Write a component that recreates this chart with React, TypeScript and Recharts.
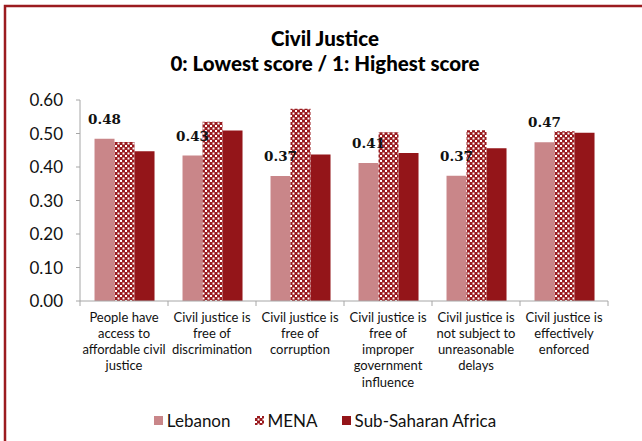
import React from 'react';
import { BarChart, Bar, XAxis, YAxis, Legend, LabelList } from 'recharts';

const titleLine1 = 'Civil Justice';
const titleLine2 = '0: Lowest score / 1: Highest score';

const categories = [
  'People have access to affordable civil justice',
  'Civil justice is free of discrimination',
  'Civil justice is free of corruption',
  'Civil justice is free of improper government influence',
  'Civil justice is not subject to unreasonable delays',
  'Civil justice is effectively enforced',
];

const categoryLines = [
  ['People have', 'access to', 'affordable civil', 'justice'],
  ['Civil justice is', 'free of', 'discrimination'],
  ['Civil justice is', 'free of', 'corruption'],
  ['Civil justice is', 'free of', 'improper', 'government', 'influence'],
  ['Civil justice is', 'not subject to', 'unreasonable', 'delays'],
  ['Civil justice is', 'effectively', 'enforced'],
];

const seriesNames = ['Lebanon', 'MENA', 'Sub-Saharan Africa'];
const lebanon = [0.484, 0.434, 0.373, 0.412, 0.374, 0.474];
const mena = [0.475, 0.535, 0.574, 0.504, 0.51, 0.507];
const ssa = [0.447, 0.509, 0.437, 0.442, 0.456, 0.502];

const yTicks = [0, 0.1, 0.2, 0.3, 0.4, 0.5, 0.6];

const data = categories.map((c, i) => ({
  name: c,
  lebanon: lebanon[i],
  mena: mena[i],
  ssa: ssa[i],
}));

const FONT = 'Lato, "Open Sans", sans-serif';
const AXIS_COLOR = '#a6a6a6';
const LEB_COLOR = '#c98689';
const MENA_COLOR = '#9a1a1e';
const SSA_COLOR = '#941519';
const FRAME_COLOR = '#9b1b1f';
const TICK_SIZE = 5;

const CategoryTick = (props: any) => {
  const { x, y, payload, index } = props;
  const half = payload && payload.offset ? payload.offset : 44;
  const axisY = y - TICK_SIZE;
  const lines = categoryLines[index] || [];
  const isLast = index === categories.length - 1;
  return (
    <g>
      <line x1={x - half} x2={x - half} y1={axisY} y2={axisY + TICK_SIZE} stroke={AXIS_COLOR} strokeWidth={1} />
      {isLast && (
        <line x1={x + half} x2={x + half} y1={axisY} y2={axisY + TICK_SIZE} stroke={AXIS_COLOR} strokeWidth={1} />
      )}
      <text x={x} y={axisY + 20.5} textAnchor="middle" fontFamily={FONT} fontSize={13} fill="#111">
        {lines.map((l, i) => (
          <tspan key={i} x={x} dy={i === 0 ? 0 : 16.3}>
            {l}
          </tspan>
        ))}
      </text>
    </g>
  );
};

const LegendContent = (props: any) => {
  const { payload } = props;
  return (
    <div style={{ display: 'flex', justifyContent: 'center', alignItems: 'center', fontFamily: FONT, fontSize: 17, color: '#111' }}>
      {(payload || []).map((p: any, i: number) => (
        <div key={i} style={{ display: 'flex', alignItems: 'center', marginRight: i < 2 ? 24 : 0 }}>
          <svg width={9} height={9} style={{ marginRight: 4 }}>
            <rect x={0} y={0} width={9} height={9} fill={p.dataKey === 'mena' ? 'url(#menaPattern)' : p.color} />
          </svg>
          <span>{p.value}</span>
        </div>
      ))}
    </div>
  );
};

export default function App() {
  return (
    <div style={{ position: 'fixed', left: 0, top: 0, width: 642, height: 441, overflow: 'hidden', background: '#fff' }}>
      <svg width={0} height={0} style={{ position: 'absolute' }}>
        <defs>
          <pattern id="menaPattern" patternUnits="userSpaceOnUse" width={5} height={5}>
            <rect x={0} y={0} width={5} height={5} fill={MENA_COLOR} />
            <rect x={0} y={0} width={2} height={2} fill="#fff" />
            <rect x={2.5} y={2.5} width={2} height={2} fill="#fff" />
          </pattern>
        </defs>
      </svg>
      <div
        style={{
          position: 'absolute',
          left: 0,
          top: 26,
          width: 650,
          textAlign: 'center',
          fontFamily: FONT,
          fontWeight: 900,
          fontSize: 20.5,
          lineHeight: '25px',
          color: '#000',
        }}
      >
        <div>{titleLine1}</div>
        <div>{titleLine2}</div>
      </div>
      <div style={{ position: 'absolute', left: 0, top: 0 }}>
        <BarChart
          width={642}
          height={441}
          data={data}
          margin={{ top: 100, right: 34, bottom: 0, left: 0 }}
          barCategoryGap="16.5%"
          barGap={0}
        >
          <XAxis
            dataKey="name"
            height={140}
            axisLine={{ stroke: AXIS_COLOR }}
            tickLine={false}
            tickSize={TICK_SIZE}
            tickMargin={0}
            interval={0}
            tick={<CategoryTick />}
          />
          <YAxis
            width={80}
            domain={[0, 0.6]}
            ticks={yTicks}
            tickFormatter={(v: number) => v.toFixed(2)}
            axisLine={{ stroke: AXIS_COLOR }}
            tickLine={{ stroke: AXIS_COLOR }}
            tickSize={4}
            tickMargin={13}
            tick={{ fill: '#111', fontFamily: FONT, fontSize: 17 }}
          />
          <Legend
            verticalAlign="middle"
            align="center"
            layout="horizontal"
            content={<LegendContent />}
            wrapperStyle={{ top: 410, left: 0, width: 650 }}
          />
          <Bar dataKey="lebanon" name={seriesNames[0]} fill={LEB_COLOR} isAnimationActive={false}>
            <LabelList
              dataKey="lebanon"
              position="top"
              offset={15}
              formatter={(v: any) => Number(v).toFixed(2)}
              style={{ fontFamily: '"DejaVu Serif", serif', fontWeight: 700, fontSize: 13.5, fill: '#111' }}
            />
          </Bar>
          <Bar dataKey="mena" name={seriesNames[1]} fill="url(#menaPattern)" isAnimationActive={false} />
          <Bar dataKey="ssa" name={seriesNames[2]} fill={SSA_COLOR} isAnimationActive={false} />
        </BarChart>
      </div>
      <svg
        width={642}
        height={441}
        style={{ position: 'absolute', left: 0, top: 0, pointerEvents: 'none' }}
      >
        <path d="M5 441 L5 6 L642 6" fill="none" stroke={FRAME_COLOR} strokeWidth={2.5} />
      </svg>
    </div>
  );
}
